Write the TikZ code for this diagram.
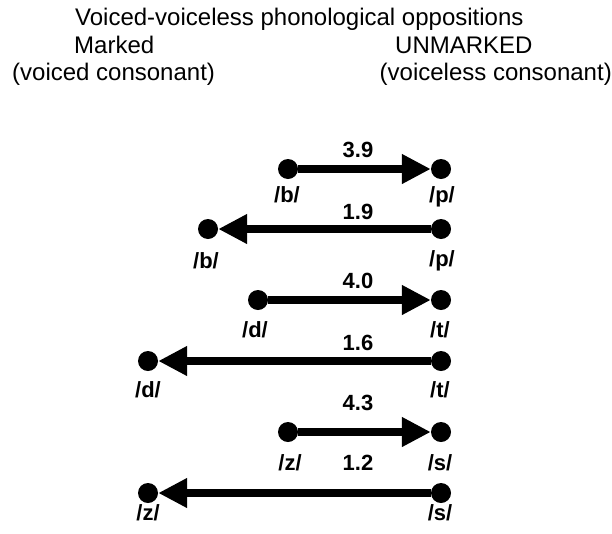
\documentclass[tikz,border=0pt]{standalone}
\usepackage{fontspec}
\setmainfont{Liberation Sans}
\usetikzlibrary{arrows.meta}
\begin{document}
\begin{tikzpicture}[x=1pt,y=-1pt,
  dot/.style={circle,fill=black,inner sep=0pt,minimum size=20pt},
  conn/.style={line width=8pt,-{Triangle[length=29pt,width=28pt]}},
  head/.style={font=\fontsize{24}{27}\selectfont,inner sep=0pt},
  num/.style={font=\fontsize{22}{24}\selectfont\bfseries,inner sep=0pt,anchor=base},
  ph/.style={font=\fontsize{22}{24}\selectfont\bfseries,inner sep=0pt,anchor=base}]
\useasboundingbox (0,0) rectangle (612,533);
% header
\node[head,anchor=base west] (t) at (75,25) {Voiced-voiceless phonological oppositions};
\node[head,anchor=base west] (m) at (74,53) {Marked};
\node[head,anchor=base west] (vc) at (12,80) {(voiced consonant)};
\node[head,anchor=base west] (u) at (395,53) {UNMARKED};
\node[head,anchor=base east] (vl) at (612,80) {(voiceless consonant)};
% dots
\node[dot] (b1) at (288,169) {};
\node[dot] (p1) at (441,169) {};
\node[dot] (b2) at (208,229) {};
\node[dot] (p2) at (441,229) {};
\node[dot] (d1) at (258,300) {};
\node[dot] (t1) at (441,300) {};
\node[dot] (d2) at (148,361) {};
\node[dot] (t2) at (441,361) {};
\node[dot] (z1) at (288,432) {};
\node[dot] (s1) at (441,432) {};
\node[dot] (z2) at (148,493) {};
\node[dot] (s2) at (441,493) {};
% arrows
\draw[conn] (b1) -- (p1);
\draw[conn] (p2) -- (b2);
\draw[conn] (d1) -- (t1);
\draw[conn] (t2) -- (d2);
\draw[conn] (z1) -- (s1);
\draw[conn] (s2) -- (z2);
% numbers
\node[num] (n1) at (358,157) {3.9};
\node[num] (n2) at (358,219) {1.9};
\node[num] (n3) at (358,288) {4.0};
\node[num] (n4) at (358,350) {1.6};
\node[num] (n5) at (358,410) {4.3};
\node[num] (n6) at (358,470) {1.2};
% phoneme labels
\node[ph] (lb1) at (287,202) {/b/};
\node[ph] (lp1) at (442,202) {/p/};
\node[ph] (lb2) at (206,268) {/b/};
\node[ph] (lp2) at (442,266) {/p/};
\node[ph] (ld1) at (255,337) {/d/};
\node[ph] (lt1) at (440,337) {/t/};
\node[ph] (ld2) at (148,397) {/d/};
\node[ph] (lt2) at (440,397) {/t/};
\node[ph] (lz1) at (290,470) {/z/};
\node[ph] (ls1) at (440,470) {/s/};
\node[ph] (lz2) at (148,520) {/z/};
\node[ph] (ls2) at (440,520) {/s/};
\end{tikzpicture}
\end{document}
